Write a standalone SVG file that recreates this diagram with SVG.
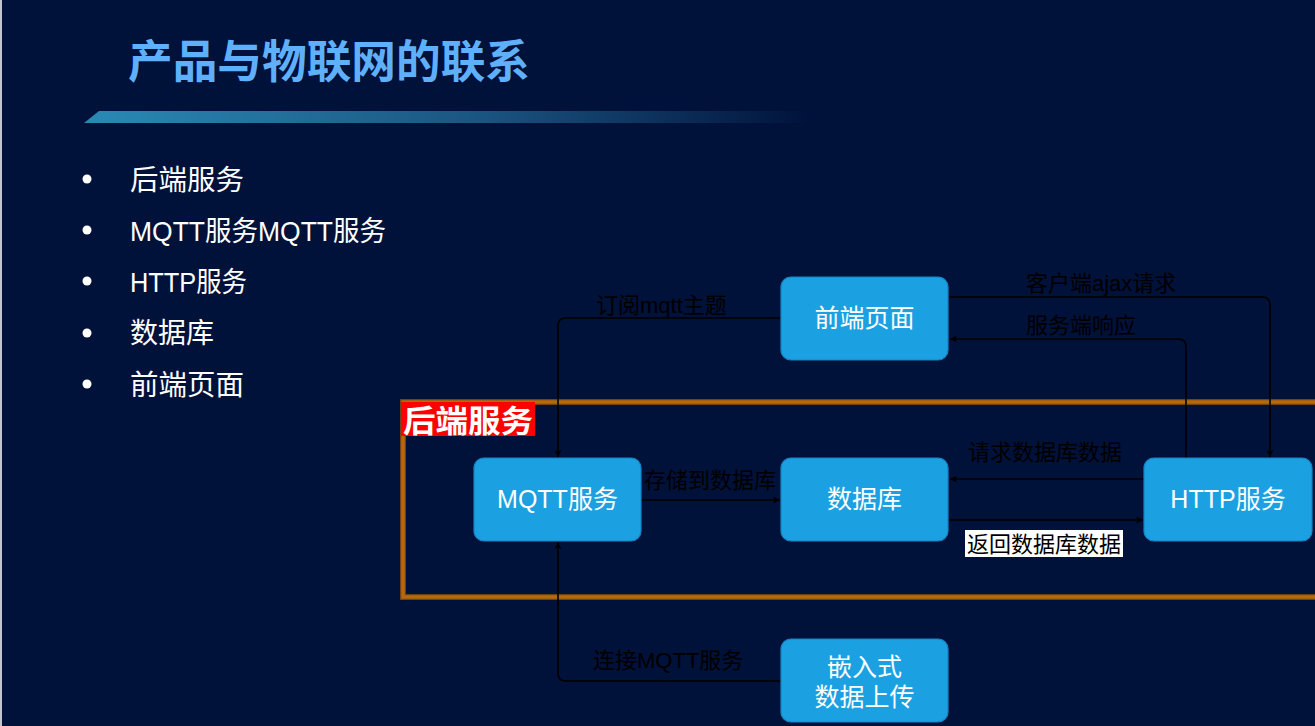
<svg xmlns="http://www.w3.org/2000/svg" width="1315" height="726" viewBox="0 0 1315 726">
<style>
text{font-family:"Liberation Sans","Noto Sans CJK SC",sans-serif}
.node rect{fill:#1ba1e2;stroke:#1784c4;stroke-width:1.2}
.node text{fill:#ffffff;font-size:25px;text-anchor:middle}
.bul text{fill:#ffffff;font-size:28px}
.bul circle{fill:#ffffff}
.edge{fill:none;stroke:#000;stroke-width:1.6}
.lbl{fill:#000;font-size:22px}
</style>
<defs>
<linearGradient id="bar" x1="0" y1="0" x2="1" y2="0">
<stop offset="0" stop-color="#2a8ab4"/>
<stop offset="0.55" stop-color="#1a5480"/>
<stop offset="1" stop-color="#00113a"/>
</linearGradient>
<marker id="ah" viewBox="0 0 10 10" refX="10" refY="5" markerWidth="7" markerHeight="7" orient="auto" markerUnits="userSpaceOnUse">
<path d="M0,0 L10,5 L0,10 L2.5,5 Z" fill="#000"/>
</marker>
</defs>
<rect x="0" y="0" width="1315" height="726" fill="#00113a"/>
<rect x="0" y="0" width="2" height="726" fill="#c0c4cc"/>

<g id="title">
<text x="128" y="78" font-size="45" font-weight="bold" fill="#5fb0fa" textLength="402" lengthAdjust="spacingAndGlyphs">产品与物联网的联系</text>
<polygon points="99,111 815,111 815,123 84,123" fill="url(#bar)"/>
</g>

<g id="bullets" class="bul">
<circle cx="87" cy="179" r="4.5"/><text x="130" y="190" textLength="114" lengthAdjust="spacingAndGlyphs">后端服务</text>
<circle cx="87" cy="230" r="4.5"/><text x="130" y="241" textLength="256" lengthAdjust="spacingAndGlyphs">MQTT服务MQTT服务</text>
<circle cx="87" cy="281" r="4.5"/><text x="130" y="292" textLength="117" lengthAdjust="spacingAndGlyphs">HTTP服务</text>
<circle cx="87" cy="333" r="4.5"/><text x="130" y="343">数据库</text>
<circle cx="87" cy="384" r="4.5"/><text x="130" y="395" textLength="114" lengthAdjust="spacingAndGlyphs">前端页面</text>
</g>

<g id="backend-group">
<rect x="403" y="402" width="1000" height="195" fill="none" stroke="#6e4418" stroke-width="6"/>
<rect x="403" y="402" width="1000" height="195" fill="none" stroke="#b8690c" stroke-width="3.5"/>
<rect x="401" y="402" width="134" height="34" fill="#ff0000"/>
<text x="403" y="432" font-size="31" font-weight="bold" fill="#ffffff" textLength="130" lengthAdjust="spacingAndGlyphs">后端服务</text>
</g>

<g id="connectors">
<path class="edge" d="M781,318 H566 Q558,318 558,326 V457" marker-end="url(#ah)"/>
<path class="edge" d="M949,297 H1262 Q1270,297 1270,305 V457" marker-end="url(#ah)"/>
<path class="edge" d="M1186,458 V347 Q1186,339 1178,339 H950" marker-end="url(#ah)"/>
<path class="edge" d="M1144,479 H950" marker-end="url(#ah)"/>
<path class="edge" d="M949,520 H1143" marker-end="url(#ah)"/>
<path class="edge" d="M641,500 H780" marker-end="url(#ah)"/>
<path class="edge" d="M781,681 H566 Q558,681 558,673 V542" marker-end="url(#ah)"/>
<text class="lbl" x="596" y="313">订阅mqtt主题</text>
<text class="lbl" x="1026" y="291">客户端ajax请求</text>
<text class="lbl" x="1026" y="333">服务端响应</text>
<text class="lbl" x="968" y="460">请求数据库数据</text>
<text class="lbl" x="644" y="488">存储到数据库</text>
<rect x="965" y="530" width="158" height="27" fill="#ffffff"/>
<text class="lbl" x="967" y="552">返回数据库数据</text>
<text class="lbl" x="593" y="668">连接MQTT服务</text>
</g>

<g id="node-frontend" class="node">
<rect x="781" y="277" width="167" height="83" rx="10"/>
<text x="864.5" y="327">前端页面</text>
</g>
<g id="node-mqtt" class="node">
<rect x="474" y="458" width="167" height="83" rx="10"/>
<text x="557.5" y="508">MQTT服务</text>
</g>
<g id="node-db" class="node">
<rect x="781" y="458" width="167" height="83" rx="10"/>
<text x="864.5" y="508">数据库</text>
</g>
<g id="node-http" class="node">
<rect x="1144" y="458" width="168" height="83" rx="10"/>
<text x="1228" y="508">HTTP服务</text>
</g>
<g id="node-embedded" class="node">
<rect x="781" y="639" width="167" height="83" rx="10"/>
<text x="864.5" y="676">嵌入式</text>
<text x="864.5" y="706">数据上传</text>
</g>
</svg>
